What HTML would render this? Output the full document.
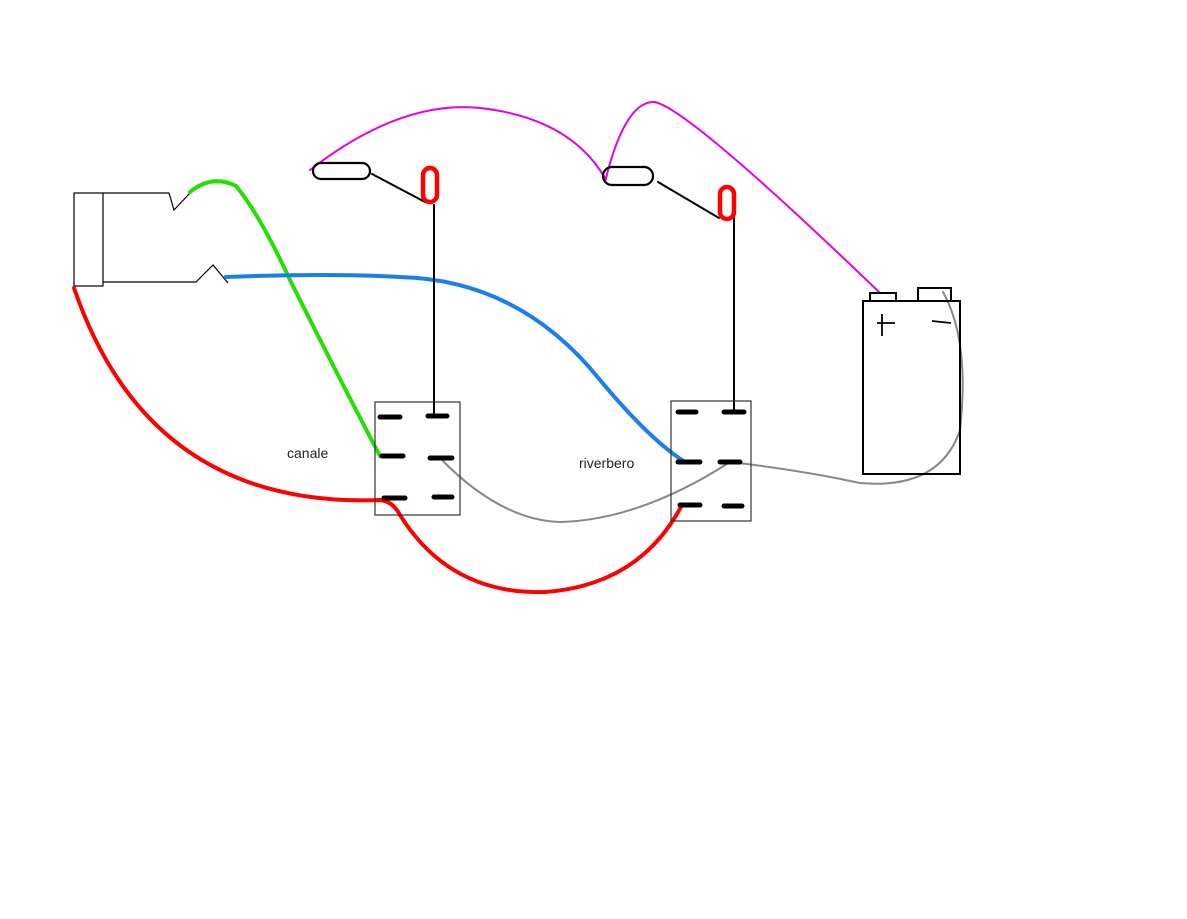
<!DOCTYPE html>
<html><head><style>body{margin:0;background:#fff}svg{display:block}</style></head><body>
<svg width="1187" height="919" viewBox="0 0 1187 919" xmlns="http://www.w3.org/2000/svg" font-family="Liberation Sans, sans-serif">
<rect width="1187" height="919" fill="#fff"/>
<g fill="none" stroke="#000" stroke-width="1.2">
<rect x="74" y="193" width="29" height="93"/>
<path d="M103 193 L169 193 L174 210 L190 193"/>
<path d="M103 282 L196 282 L213 265 L228 283"/>
</g>
<g fill="none" stroke-linecap="round">
<path d="M190 192 Q212 174 236 186 Q260 215 290 280 Q340 380 380 456" stroke="#22e000" stroke-width="4"/>
<path d="M226 277 Q330 273 400 277 Q520 280 600 380 Q650 440 685 462" stroke="#1a7fe8" stroke-width="4"/>
<path d="M74 288 Q150 510 383 500" stroke="#f00" stroke-width="4"/>
<path d="M378 500 Q392 500 400 515 Q450 595 545 592 Q640 585 682 505" stroke="#f00" stroke-width="4"/>
<path d="M310 170 Q400 100 480 108 Q570 118 605 178" stroke="#e600e6" stroke-width="2"/>
<path d="M605 182 Q625 100 655 102 Q690 110 880 293" stroke="#e600e6" stroke-width="2"/>
<path d="M440 458 Q500 520 560 522 Q640 520 730 462 Q800 470 860 483 Q940 490 960 430 Q970 340 943 292" stroke="#888" stroke-width="2"/>
<path d="M372 174 L425 202 M434 205 L434 416 M658 182 L719 218 M734 218 L734 410" stroke="#000" stroke-width="2"/>
</g>
<g fill="none" stroke="#000" stroke-width="2.2">
<rect x="313" y="163" width="57" height="16" rx="8"/>
<rect x="603" y="167" width="50" height="18" rx="9"/>
</g>
<g fill="none" stroke="#f00" stroke-width="4.5">
<rect x="423" y="168" width="14" height="34" rx="7"/>
<rect x="720" y="187" width="14" height="32" rx="7"/>
</g>
<g fill="none" stroke="#333" stroke-width="1.2">
<rect x="375" y="402" width="85" height="113"/>
<rect x="671" y="401" width="80" height="120"/>
</g>
<g stroke="#000" stroke-width="5" stroke-linecap="round">
<path d="M380 417 L400 417 M428 416 L447 416 M382 456 L403 456 M430 458 L452 458 M384 498 L405 498 M434 497 L452 497"/>
<path d="M678 412 L696 412 M724 412 L744 412 M678 462 L700 462 M720 462 L740 462 M680 505 L700 505 M724 506 L742 506"/>
</g>
<g fill="none" stroke="#000" stroke-width="2">
<rect x="863" y="301" width="97" height="173"/>
<rect x="870" y="293" width="26" height="8"/>
<rect x="918" y="288" width="33" height="13"/>
<path d="M877 323 L895 323 M882 314 L882 336 M932 321 L951 323" stroke-width="1.8"/>
</g>
<text x="287" y="458" font-size="14" fill="#222">canale</text>
<text x="579" y="468" font-size="14" fill="#222">riverbero</text>
</svg>
</body></html>
